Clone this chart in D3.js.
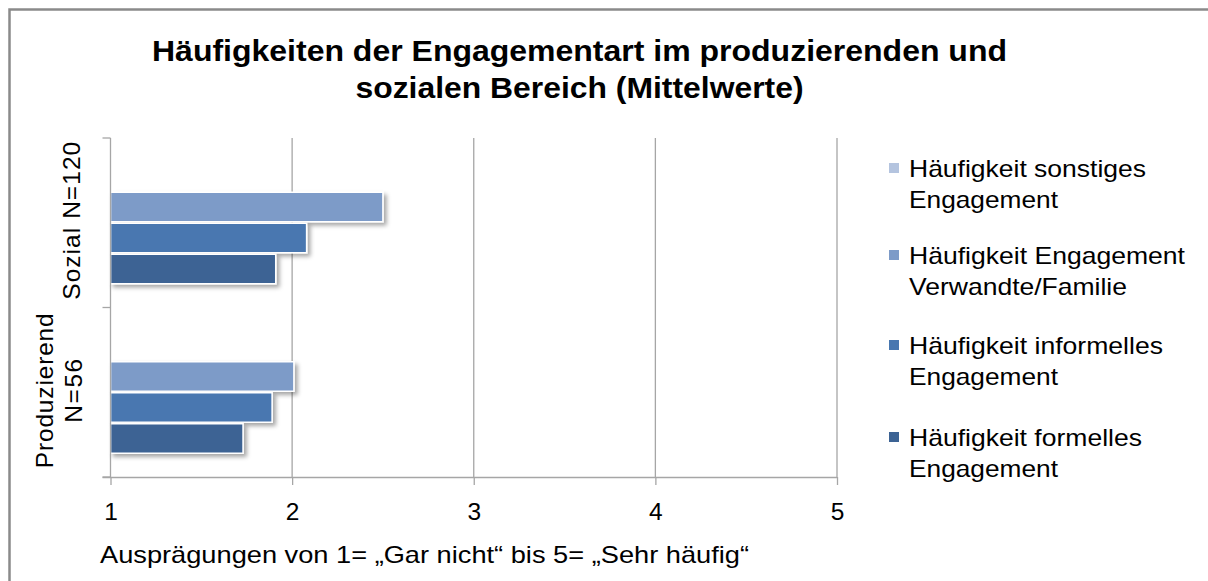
<!DOCTYPE html>
<html>
<head>
<meta charset="utf-8">
<script src="https://cdn.jsdelivr.net/npm/d3@7"></script>
<style>
  html, body { margin: 0; padding: 0; background: #fff; overflow: hidden; }
  svg { display: block; overflow: hidden; font-family: "Liberation Sans", Arial, sans-serif; }
</style>
</head>
<body>
<svg id="chart" width="1208" height="581"></svg>
<script>
// Gruppen (von oben nach unten)
const categories = ["Sozial N=120", "Produzierend N=56"];
// Zeilenumbruch der Gruppenbeschriftungen
const categoryLines = [["Sozial N=120"], ["Produzierend", "N=56"]];
// Reihen in Darstellungsreihenfolge (oben nach unten innerhalb einer Gruppe)
const seriesNames = [
  "Häufigkeit sonstiges Engagement",
  "Häufigkeit Engagement Verwandte/Familie",
  "Häufigkeit informelles Engagement",
  "Häufigkeit formelles Engagement"
];
const legendLines = [
  ["Häufigkeit sonstiges", "Engagement"],
  ["Häufigkeit Engagement", "Verwandte/Familie"],
  ["Häufigkeit informelles", "Engagement"],
  ["Häufigkeit formelles", "Engagement"]
];
// Mittelwerte je Reihe: [Sozial, Produzierend]
const sonstiges  = [1.00, 1.00];
const verwandte  = [2.50, 2.01];
const informell  = [2.08, 1.89];
const formell    = [1.91, 1.73];
const seriesValues = [sonstiges, verwandte, informell, formell];
const seriesColors = ["#b4c4df", "#7d9bc8", "#4877b0", "#3c6394"];
const xTicks = [1, 2, 3, 4, 5];
const titleLines = ["Häufigkeiten der Engagementart im produzierenden und", "sozialen Bereich (Mittelwerte)"];
const xTitle = "Ausprägungen von 1= „Gar nicht“ bis 5= „Sehr häufig“";

const svg = d3.select("#chart");

// Schatten für die Balken
const defs = svg.append("defs");
const f = defs.append("filter").attr("id", "shadow")
  .attr("x", "-20%").attr("y", "-30%").attr("width", "160%").attr("height", "180%");
f.append("feDropShadow").attr("dx", 3).attr("dy", 3).attr("stdDeviation", 2)
  .attr("flood-color", "#000").attr("flood-opacity", 0.35);

// Rahmen des Diagrammbereichs (nur oben und links sichtbar)
svg.append("path").attr("d", "M9.5,581V9.5H1208")
  .attr("fill", "none").attr("stroke", "#8a8a8a").attr("stroke-width", 2.5);

// Titel
svg.append("g").selectAll("text").data(titleLines).join("text")
  .attr("x", 579.5).attr("y", (d, i) => 61 + i * 37)
  .attr("text-anchor", "middle")
  .attr("font-size", 29).attr("font-weight", "bold").attr("fill", "#000")
  .attr("textLength", (d, i) => [855, 448][i]).attr("lengthAdjust", "spacingAndGlyphs")
  .text(d => d);

const plot = { left: 110.5, right: 837, top: 138, bottom: 477 };

const x = d3.scaleLinear().domain([1, 5]).range([plot.left, plot.right]);
const y0 = d3.scaleBand().domain(categories).range([plot.top, plot.bottom]);
const y1 = d3.scaleBand().domain(seriesNames).range([22.5, y0.bandwidth() - 23]);

// Gitterlinien
svg.append("g").selectAll("line").data(xTicks.slice(1)).join("line")
  .attr("x1", d => x(d)).attr("x2", d => x(d))
  .attr("y1", plot.top).attr("y2", plot.bottom)
  .attr("stroke", "#a6a6a6").attr("stroke-width", 1.3);

// Balken
const groups = svg.append("g").selectAll("g").data(categories).join("g")
  .attr("transform", c => `translate(0,${y0(c)})`);
groups.selectAll("path")
  .data((c, ci) => seriesNames.map((s, si) => ({ s, si, v: seriesValues[si][ci] })))
  .join("path")
  .attr("d", d => {
    const p = d3.path();
    const x0 = x(1), x1v = x(d.v), yt = y1(d.s) + 0.8, h = y1.bandwidth() - 1.6;
    p.moveTo(x0, yt); p.lineTo(x1v, yt); p.lineTo(x1v, yt + h); p.lineTo(x0, yt + h); p.closePath();
    return p.toString();
  })
  .attr("fill", d => seriesColors[d.si])
  .attr("stroke", "#fff").attr("stroke-width", 1.6)
  .attr("filter", "url(#shadow)");

// x-Achse
const xAxis = svg.append("g").attr("transform", `translate(0,${plot.bottom})`)
  .call(d3.axisBottom(x).tickValues(xTicks).tickSize(8).tickPadding(18).tickFormat(d3.format("d")));
xAxis.select(".domain").attr("stroke", "#a6a6a6").attr("stroke-width", 1.3)
  .attr("d", `M${plot.left - 8},0.5H${plot.right}`);
xAxis.selectAll(".tick line").attr("stroke", "#a6a6a6").attr("stroke-width", 1.3);
xAxis.selectAll(".tick text").attr("font-size", 24.5).attr("fill", "#000")
  .attr("font-family", "Liberation Sans, Arial, sans-serif");

// y-Achse
const yTicks = [plot.top, y0(categories[1]), plot.bottom];
svg.append("line").attr("x1", plot.left).attr("x2", plot.left)
  .attr("y1", plot.top).attr("y2", plot.bottom).attr("stroke", "#a6a6a6").attr("stroke-width", 1.3);
svg.append("g").selectAll("line").data(yTicks).join("line")
  .attr("x1", plot.left - 8).attr("x2", plot.left).attr("y1", d => d).attr("y2", d => d)
  .attr("stroke", "#a6a6a6").attr("stroke-width", 1.3);

// Gruppenbeschriftungen (gedreht)
const labelPos = [
  { dy: -2, baselines: [80], lens: [158] },
  { dy: -1.5, baselines: [53, 82], lens: [155, 64] }
];
categories.forEach((c, ci) => {
  const cy = y0(c) + y0.bandwidth() / 2 + labelPos[ci].dy;
  categoryLines[ci].forEach((line, li) => {
    svg.append("text")
      .attr("transform", `translate(${labelPos[ci].baselines[li]},${cy}) rotate(-90)`)
      .attr("text-anchor", "middle").attr("font-size", 24.5).attr("fill", "#000")
      .attr("textLength", labelPos[ci].lens[li]).attr("lengthAdjust", "spacing")
      .text(line);
  });
});

// Achsentitel
svg.append("text").attr("x", 100).attr("y", 563).attr("font-size", 24).attr("fill", "#000")
  .attr("textLength", 649).attr("lengthAdjust", "spacingAndGlyphs").text(xTitle);

// Legende
const legendBase = [177, 264, 354, 446];
const legendLens = [[237, 149], [276, 218], [254, 149], [233, 149]];
const lg = svg.append("g").selectAll("g").data(seriesNames).join("g")
  .attr("transform", (d, i) => `translate(889,${legendBase[i]})`);
lg.append("rect").attr("x", 0).attr("y", -14).attr("width", 10).attr("height", 10)
  .attr("fill", (d, i) => seriesColors[i]);
lg.each(function (d, i) {
  d3.select(this).selectAll("text").data(legendLines[i]).join("text")
    .attr("x", 20).attr("y", (t, li) => li * 30.5)
    .attr("font-size", 24).attr("fill", "#000")
    .attr("textLength", (t, li) => legendLens[i][li]).attr("lengthAdjust", "spacingAndGlyphs")
    .text(t => t);
});
</script>
</body>
</html>
